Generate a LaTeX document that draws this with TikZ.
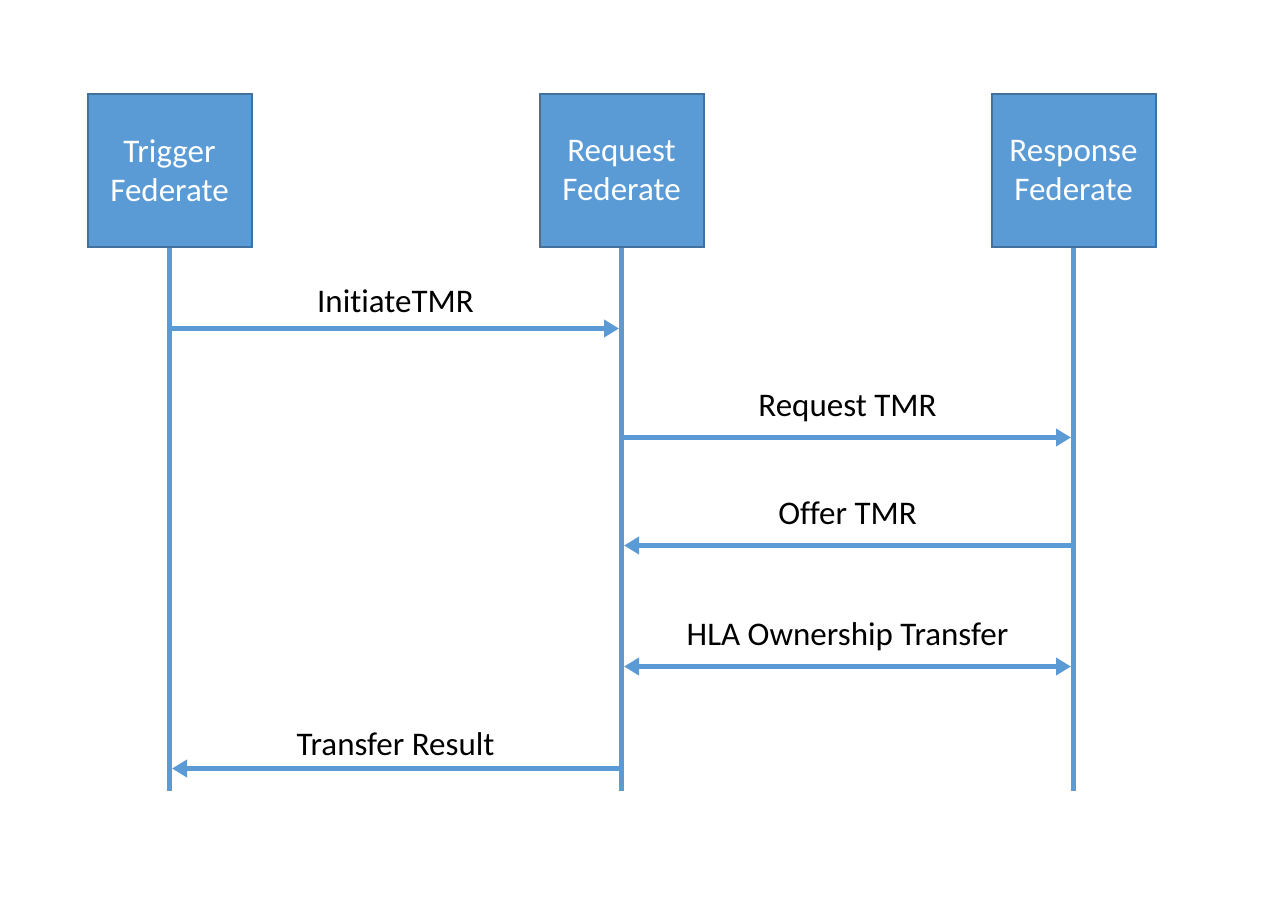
\documentclass[tikz,border=0pt]{standalone}
\usepackage{fontspec}
\setmainfont{Carlito}[Ligatures=NoCommon]
\usetikzlibrary{arrows.meta}
\definecolor{boxfill}{HTML}{5B9BD5}
\definecolor{boxline}{HTML}{41719C}
\begin{document}
\begin{tikzpicture}[x=1pt,y=-1pt,
  actor/.style={draw=boxline,line width=2pt,fill=boxfill,minimum width=164pt,minimum height=152pt,
    text=white,align=center,font=\fontsize{33}{39}\selectfont,inner sep=0pt},
  life/.style={draw=boxfill,line width=5.5pt},
  msg/.style={draw=boxfill,line width=5.5pt,-{Triangle[length=15pt,width=17pt]},shorten >=2.5pt},
  dmsg/.style={draw=boxfill,line width=5.5pt,{Triangle[length=15pt,width=17pt]}-{Triangle[length=15pt,width=17pt]},shorten >=2.5pt,shorten <=2.5pt},
  lbl/.style={font=\fontsize{33}{39}\selectfont,anchor=base,inner sep=0pt,text=black}]
\useasboundingbox (0,0) rectangle (1265,896);
\node[actor] (trig) at (169.5,170.5) {Trigger\\Federate};
\node[actor] (req) at (621.5,170.5) {Request\\Federate};
\node[actor] (resp) at (1073.5,170.5) {Response\\Federate};
\coordinate (trigEnd) at (169.5,791);
\coordinate (reqEnd) at (621.5,791);
\coordinate (respEnd) at (1073.5,791);
\draw[life] (trig.south) -- (trigEnd);
\draw[life] (req.south) -- (reqEnd);
\draw[life] (resp.south) -- (respEnd);
% message points
\coordinate (t1) at (169.5,328.5);
\coordinate (r1) at (621.5,328.5);
\coordinate (r2) at (621.5,437.5);
\coordinate (s2) at (1073.5,437.5);
\coordinate (s3) at (1073.5,545.5);
\coordinate (r3) at (621.5,545.5);
\coordinate (r4) at (621.5,666.5);
\coordinate (s4) at (1073.5,666.5);
\coordinate (r5) at (621.5,768.5);
\coordinate (t5) at (169.5,768.5);
\draw[msg] (t1) -- (r1) node[lbl,midway,yshift=16.5pt] {InitiateTMR};
\draw[msg] (r2) -- (s2) node[lbl,midway,yshift=21pt] {Request TMR};
\draw[msg] (s3) -- (r3) node[lbl,midway,yshift=21pt] {Offer TMR};
\draw[dmsg] (r4) -- (s4) node[lbl,midway,yshift=21pt] {HLA Ownership Transfer};
\draw[msg] (r5) -- (t5) node[lbl,midway,yshift=13pt] {Transfer Result};
\end{tikzpicture}
\end{document}
